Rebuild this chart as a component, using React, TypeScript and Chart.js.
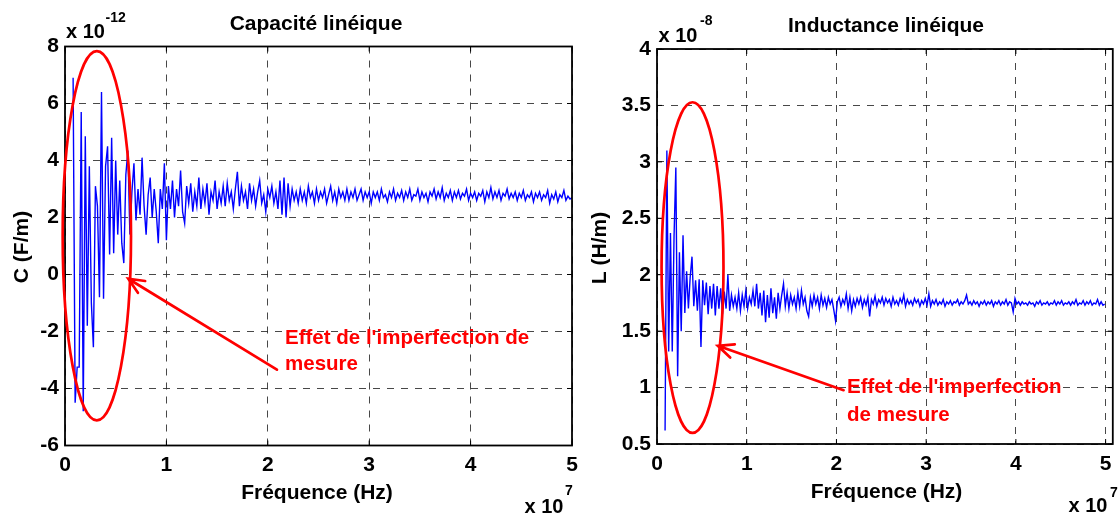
import React, { useEffect, useRef } from "react";
import { Chart, registerables } from "chart.js";

Chart.register(...registerables);

// ---------- DATA ----------
// Frequencies in units of 1e7 Hz (uniform measurement grid)
const capFreqStart = 0.08;
const capFreqStep = 0.02;
// Capacité linéique, units of 1e-12 F/m
const capValues = [
  6.9, -4.5, -3.25, -3.25, 5.7, -4.8, 4.85, -1.8, 3.8, -1.0,
  -2.55, 3.1, 2.4, -0.8, 6.4, -0.85, 3.8, 4.5, 0.7, 4.8,
  0.75, 4.0, 1.4, 3.3, 1.1, 0.4, 3.5, 4.35, 1.4, 2.9,
  3.9, 1.9, 3.0, 2.1, 4.1, 2.4, 1.4, 2.8, 3.4, 2.0,
  3.0, 2.2, 1.1, 3.0, 2.3, 3.9, 1.2, 3.1, 2.3, 3.3,
  2.0, 3.0, 2.4, 3.65, 2.2, 1.8, 3.1, 2.5, 3.2, 2.2,
  2.9, 2.4, 3.4, 2.3, 3.0, 2.5, 3.2, 2.1, 2.9, 2.6,
  3.3, 2.3, 2.9, 2.5, 3.1, 2.4, 3.2, 2.6, 2.9, 2.3,
  3.0, 3.6, 2.4, 3.1, 2.6, 2.9, 2.3, 3.2, 2.6, 3.0,
  2.4, 2.9, 3.3, 2.5, 2.8, 2.2, 3.0, 2.7, 3.1, 2.5,
  2.9, 2.3, 3.3, 2.1, 3.4, 2.0, 3.2, 2.4, 3.0, 2.6,
  2.9, 2.5, 3.0, 2.6, 2.9, 2.5, 3.1, 2.7, 2.9, 2.5,
  3.0, 2.6, 2.9, 2.7, 3.0, 2.5, 2.8, 3.1, 2.6, 2.9,
  2.5, 3.0, 2.7, 2.9, 2.6, 3.0, 2.6, 2.9, 2.7, 3.0,
  2.6, 2.8, 3.0, 2.6, 2.9, 2.7, 2.9, 2.5, 2.9, 2.7,
  2.9, 2.6, 3.0, 2.7, 2.8, 2.55, 2.9, 2.7, 3.0, 2.6,
  2.85, 2.7, 2.95, 2.6, 2.9, 2.7, 3.0, 2.6, 2.8, 2.75,
  3.0, 2.6, 2.9, 2.7, 2.85, 2.55, 2.9, 2.75, 3.0, 2.65,
  2.9, 2.7, 3.05, 2.6, 2.85, 2.7, 2.95, 2.6, 2.9, 2.7,
  2.95, 2.65, 2.85, 2.75, 3.0, 2.6, 2.85, 2.7, 2.9, 2.6,
  2.85, 2.75, 2.95, 2.55, 2.9, 2.7, 3.05, 2.65, 2.9, 2.7,
  2.95, 2.6, 2.85, 2.75, 3.0, 2.65, 2.85, 2.7, 2.9, 2.6,
  2.85, 2.7, 2.95, 2.6, 2.8, 2.7, 2.9, 2.55, 2.85, 2.7,
  2.9, 2.6, 2.8, 2.7, 2.95, 2.5, 2.8, 2.65, 2.9, 2.55,
  2.8, 2.7, 2.95, 2.6, 2.75, 2.65, 2.7,
];

const indFreqStart = 0.09;
const indFreqStep = 0.02;
// Inductance linéique, units of 1e-8 H/m
const indValues = [
  0.62, 3.1, 1.32, 2.37, 1.32, 2.34, 2.95, 1.1, 2.2, 1.5,
  2.35, 1.66, 2.03, 1.7, 1.98, 2.16, 1.72, 1.95, 1.68, 1.96,
  1.36, 1.95, 1.73, 1.93, 1.65, 1.9, 1.7, 1.92, 1.64, 1.9,
  1.7, 1.88, 1.65, 1.85, 1.7, 2.0, 1.68, 1.82, 1.72, 1.8,
  1.7, 1.84, 1.68, 1.82, 1.72, 1.86, 1.7, 1.8, 1.74, 1.86,
  1.72, 1.92, 1.7, 1.84, 1.64, 1.86, 1.58, 1.82, 1.62, 1.88,
  1.66, 1.8, 1.61, 1.84, 1.7, 1.82, 1.92, 1.72, 1.84, 1.7,
  1.82, 1.74, 1.8, 1.7, 1.84, 1.72, 1.86, 1.74, 1.8, 1.68,
  1.63, 1.8, 1.72, 1.82, 1.74, 1.8, 1.7, 1.82, 1.73, 1.79,
  1.71, 1.8, 1.74, 1.78, 1.69, 1.59, 1.76, 1.8, 1.72, 1.78,
  1.74, 1.83, 1.7, 1.8, 1.68, 1.78, 1.72, 1.79, 1.74, 1.8,
  1.71, 1.78, 1.73, 1.8, 1.63, 1.78, 1.74, 1.81, 1.72, 1.78,
  1.75, 1.8, 1.73, 1.79, 1.75, 1.78, 1.72, 1.8, 1.74, 1.77,
  1.73, 1.79, 1.75, 1.82, 1.72, 1.78, 1.74, 1.77, 1.73, 1.79,
  1.75, 1.78, 1.72, 1.77, 1.74, 1.79, 1.73, 1.83, 1.72, 1.77,
  1.74, 1.78, 1.73, 1.76, 1.74, 1.78, 1.72, 1.76, 1.74, 1.77,
  1.73, 1.76, 1.75, 1.78, 1.73, 1.76, 1.74, 1.77, 1.82, 1.74,
  1.76, 1.73, 1.77, 1.74, 1.76, 1.72, 1.76, 1.74, 1.77, 1.73,
  1.76, 1.74, 1.77, 1.72, 1.76, 1.74, 1.77, 1.73, 1.76, 1.74,
  1.78, 1.73, 1.76, 1.75, 1.67, 1.79, 1.74, 1.76, 1.73, 1.76,
  1.74, 1.75, 1.73, 1.76, 1.74, 1.75, 1.72, 1.76, 1.74, 1.77,
  1.73, 1.75, 1.74, 1.76, 1.73, 1.75, 1.74, 1.77, 1.73, 1.76,
  1.74, 1.77, 1.73, 1.75, 1.74, 1.76, 1.73, 1.76, 1.74, 1.78,
  1.73, 1.75, 1.74, 1.77, 1.73, 1.76, 1.74, 1.77, 1.73, 1.75,
  1.74, 1.78, 1.73, 1.76, 1.73, 1.74,
];

const freqTicks = [0, 1, 2, 3, 4, 5];
const capYTicks = [-6, -4, -2, 0, 2, 4, 6, 8];
const indYTicks = [0.5, 1, 1.5, 2, 2.5, 3, 3.5, 4];

// ---------- STYLE ----------
const W = 1119;
const H = 513;
const FONT = '"Liberation Sans", Arial, Helvetica, sans-serif';

function buildPoints(start: number, step: number, values: number[]) {
  return values.map((v, i) => ({ x: +(start + i * step).toFixed(4), y: v }));
}

type Decor = {
  title: string; titleX: number; titleY: number;
  xTitle: string; xTitleX: number; xTitleY: number;
  yTitle: string; yTitleX: number; yTitleY: number;
  expTop: { x: number; y: number; sx: number; sy: number; txt: string };
  expBot: { x: number; y: number; sx: number; sy: number; txt: string };
  ellipse: { cx: number; cy: number; rx: number; ry: number };
  arrow: { x1: number; y1: number; x2: number; y2: number };
  note: { x: number; y: number[]; lines: string[] };
};

function makeDecor(d: Decor) {
  return {
    id: "decor",
    afterDraw(chart: any) {
      const ctx = chart.ctx as CanvasRenderingContext2D;
      const a = chart.chartArea;
      const xs = chart.scales.x;
      const ys = chart.scales.y;
      ctx.save();
      // inward ticks
      ctx.strokeStyle = "#000";
      ctx.lineWidth = 1;
      ctx.setLineDash([]);
      ctx.beginPath();
      for (const t of xs.ticks) {
        const p = xs.getPixelForValue(t.value);
        ctx.moveTo(p, a.bottom); ctx.lineTo(p, a.bottom - 5);
        ctx.moveTo(p, a.top); ctx.lineTo(p, a.top + 5);
      }
      for (const t of ys.ticks) {
        const p = ys.getPixelForValue(t.value);
        ctx.moveTo(a.left, p); ctx.lineTo(a.left + 5, p);
        ctx.moveTo(a.right, p); ctx.lineTo(a.right - 5, p);
      }
      ctx.stroke();
      // frame
      ctx.lineWidth = 1.8;
      ctx.strokeRect(a.left, a.top, a.right - a.left, a.bottom - a.top);

      // texts
      ctx.fillStyle = "#000";
      ctx.textBaseline = "alphabetic";
      ctx.textAlign = "center";
      ctx.font = `bold 21px ${FONT}`;
      ctx.fillText(d.title, d.titleX, d.titleY);
      ctx.fillText(d.xTitle, d.xTitleX, d.xTitleY);
      ctx.save();
      ctx.translate(d.yTitleX, d.yTitleY);
      ctx.rotate(-Math.PI / 2);
      ctx.textBaseline = "middle";
      ctx.fillText(d.yTitle, 0, 0);
      ctx.restore();

      ctx.textAlign = "left";
      for (const e of [d.expTop, d.expBot]) {
        ctx.font = `bold 20px ${FONT}`;
        ctx.fillText("x 10", e.x, e.y);
        ctx.font = `bold 14px ${FONT}`;
        ctx.fillText(e.txt, e.sx, e.sy);
      }

      // red annotations
      ctx.strokeStyle = "#ff0000";
      ctx.fillStyle = "#ff0000";
      ctx.lineWidth = 2.7;
      const ex = xs.getPixelForValue(d.ellipse.cx);
      const ey = ys.getPixelForValue(d.ellipse.cy);
      const erx = Math.abs(xs.getPixelForValue(d.ellipse.cx + d.ellipse.rx) - ex);
      const ery = Math.abs(ys.getPixelForValue(d.ellipse.cy + d.ellipse.ry) - ey);
      ctx.beginPath();
      ctx.ellipse(ex, ey, erx, ery, 0, 0, Math.PI * 2);
      ctx.stroke();

      const tx = xs.getPixelForValue(d.arrow.x1);
      const ty = ys.getPixelForValue(d.arrow.y1);
      const hx = xs.getPixelForValue(d.arrow.x2);
      const hy = ys.getPixelForValue(d.arrow.y2);
      const ang = Math.atan2(ty - hy, tx - hx);
      const len = 17;
      const spread = (24 * Math.PI) / 180;
      ctx.lineCap = "round";
      ctx.beginPath();
      ctx.moveTo(tx, ty);
      ctx.lineTo(hx, hy);
      ctx.moveTo(hx + len * Math.cos(ang - spread), hy + len * Math.sin(ang - spread));
      ctx.lineTo(hx, hy);
      ctx.lineTo(hx + len * Math.cos(ang + spread), hy + len * Math.sin(ang + spread));
      ctx.stroke();

      ctx.font = `bold 20.5px ${FONT}`;
      ctx.textAlign = "left";
      ctx.textBaseline = "alphabetic";
      const nx = xs.getPixelForValue(d.note.x);
      d.note.lines.forEach((ln, i) => {
        ctx.fillText(ln, nx, ys.getPixelForValue(d.note.y[i]));
      });
      ctx.restore();
    },
  };
}

type PanelCfg = {
  points: { x: number; y: number }[];
  xMax: number;
  yMin: number;
  yMax: number;
  yTicks: number[];
  padTop: number;
  padRight: number;
  yWidth: number;
  xHeight: number;
  decor: Decor;
};

function makeConfig(p: PanelCfg): any {
  const tickFont = { family: FONT, size: 21, weight: "bold" as const };
  return {
    type: "line",
    data: {
      datasets: [
        {
          data: p.points,
          borderColor: "#0000ff",
          borderWidth: 1.4,
          pointRadius: 0,
          tension: 0,
          fill: false,
        },
      ],
    },
    options: {
      responsive: false,
      animation: false,
      devicePixelRatio: 1,
      events: [],
      layout: { padding: { top: p.padTop, right: p.padRight, left: 0, bottom: 0 } },
      plugins: { legend: { display: false }, tooltip: { enabled: false }, title: { display: false } },
      scales: {
        x: {
          type: "linear",
          min: 0,
          max: p.xMax,
          afterBuildTicks: (s: any) => {
            s.ticks = freqTicks.map((v) => ({ value: v }));
          },
          afterFit: (s: any) => {
            s.height = p.xHeight;
          },
          ticks: {
            font: tickFont,
            color: "#000",
            padding: 7.5,
            maxRotation: 0,
            autoSkip: false,
            callback: (v: any) => String(v),
          },
          grid: { color: "rgba(40,40,40,0.85)", lineWidth: 1, drawTicks: false },
          border: { display: false, dash: [7, 7] },
        },
        y: {
          type: "linear",
          min: p.yMin,
          max: p.yMax,
          afterBuildTicks: (s: any) => {
            s.ticks = p.yTicks.map((v) => ({ value: v }));
          },
          afterFit: (s: any) => {
            s.width = p.yWidth;
          },
          ticks: {
            font: tickFont,
            color: "#000",
            padding: 6,
            autoSkip: false,
            callback: (v: any) => String(v),
          },
          grid: { color: "rgba(40,40,40,0.85)", lineWidth: 1, drawTicks: false },
          border: { display: false, dash: [7, 7] },
        },
      },
    },
    plugins: [makeDecor(p.decor)],
  };
}

const leftCfg: PanelCfg = {
  points: buildPoints(capFreqStart, capFreqStep, capValues),
  xMax: 5,
  yMin: -6,
  yMax: 8,
  yTicks: capYTicks,
  padTop: 46.5,
  padRight: W - 572,
  yWidth: 65,
  xHeight: 67.5,
  decor: {
    title: "Capacité linéique", titleX: 316, titleY: 30,
    xTitle: "Fréquence (Hz)", xTitleX: 317, xTitleY: 499,
    yTitle: "C (F/m)", yTitleX: 22, yTitleY: 247,
    expTop: { x: 66, y: 38.3, sx: 105.5, sy: 21.7, txt: "-12" },
    expBot: { x: 524.5, y: 513, sx: 565, sy: 495, txt: "7" },
    ellipse: { cx: 0.314, cy: 1.36, rx: 0.337, ry: 6.48 },
    arrow: { x1: 2.09, y1: -3.34, x2: 0.624, y2: -0.15 },
    note: { x: 2.17, y: [-2.43, -3.34], lines: ["Effet de l'imperfection de", "mesure"] },
  },
};

const rightCfg: PanelCfg = {
  points: buildPoints(indFreqStart, indFreqStep, indValues),
  xMax: 5.08,
  yMin: 0.5,
  yMax: 4,
  yTicks: indYTicks,
  padTop: 49,
  padRight: 3,
  yWidth: 657,
  xHeight: 69,
  decor: {
    title: "Inductance linéique", titleX: 886, titleY: 31.5,
    xTitle: "Fréquence (Hz)", xTitleX: 886.5, xTitleY: 498,
    yTitle: "L (H/m)", yTitleX: 600.5, yTitleY: 248,
    expTop: { x: 658.5, y: 41.5, sx: 700, sy: 25, txt: "-8" },
    expBot: { x: 1068.5, y: 512, sx: 1110, sy: 497, txt: "7" },
    ellipse: { cx: 0.396, cy: 2.063, rx: 0.345, ry: 1.465 },
    arrow: { x1: 2.08, y1: 0.977, x2: 0.678, y2: 1.37 },
    note: { x: 2.118, y: [0.948, 0.705], lines: ["Effet de l'imperfection", "de mesure"] },
  },
};

function Panel({ cfg }: { cfg: PanelCfg }) {
  const ref = useRef<HTMLCanvasElement | null>(null);
  useEffect(() => {
    if (!ref.current) return;
    const chart = new Chart(ref.current, makeConfig(cfg));
    return () => chart.destroy();
  }, [cfg]);
  return (
    <canvas
      ref={ref}
      width={W}
      height={H}
      style={{ position: "absolute", left: 0, top: 0, width: W, height: H }}
    />
  );
}

export default function App() {
  return (
    <div
      style={{
        position: "absolute",
        left: 0,
        top: 0,
        width: W,
        height: H,
        background: "#fff",
        overflow: "hidden",
      }}
    >
      <Panel cfg={leftCfg} />
      <Panel cfg={rightCfg} />
    </div>
  );
}
